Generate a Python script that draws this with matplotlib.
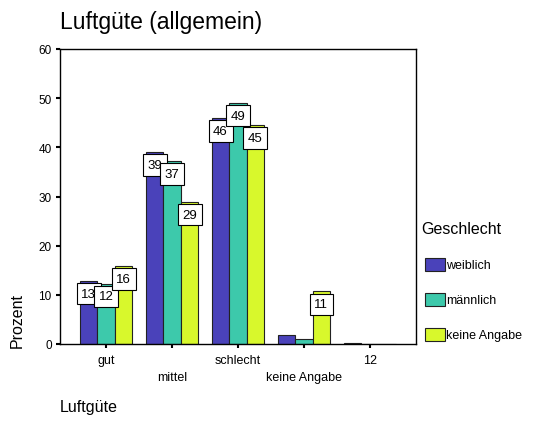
import numpy as np
import matplotlib.pyplot as plt

plt.rcParams['font.family'] = ['Liberation Sans', 'DejaVu Sans']

categories = ['gut', 'mittel', 'schlecht', 'keine Angabe', '12']
groups = ['weiblich', 'männlich', 'keine Angabe']
weiblich = [12.8, 39.0, 45.9, 1.8, 0.3]
maennlich = [12.3, 37.2, 49.0, 1.1, 0.0]
keine = [15.8, 28.9, 44.5, 10.7, 0.0]
labels = [[13, 39, 46, None, None],
          [12, 37, 49, None, None],
          [16, 29, 45, 11, None]]
colors = ['#4A42BA', '#3DC9AB', '#D8F82C']

series = [weiblich, maennlich, keine]

fig = plt.figure(figsize=(5.35, 4.27), dpi=100)
ax = fig.add_axes([60 / 535, 82 / 427, 356 / 535, 295 / 427])

x = np.arange(len(categories))
w = 0.265
for i, vals in enumerate(series):
    pos = x + (i - 1) * w
    ax.bar(pos, vals, width=w, color=colors[i], edgecolor='#222222',
           linewidth=0.8, label=groups[i], zorder=2)
    for p, v, lab in zip(pos, vals, labels[i]):
        if lab is None:
            continue
        ax.text(p, v - 2.6, str(lab), ha='center', va='center', fontsize=9.5,
                zorder=4,
                bbox=dict(boxstyle='square,pad=0.35', fc='white',
                          ec='black', lw=0.8))

ax.set_xlim(-0.7, 4.7)
ax.set_ylim(0, 60)
ax.set_yticks(np.arange(0, 61, 10))
ax.tick_params(axis='y', labelsize=8.5, length=3, width=1.5, pad=3)
ax.set_xticks(x)
ax.set_xticklabels([c if k % 2 == 0 else '\n' + c
                    for k, c in enumerate(categories)])
for k, t in enumerate(ax.get_xticklabels()):
    if k % 2 == 1:
        t.set_linespacing(1.55)
ax.tick_params(axis='x', labelsize=9, length=3, width=1.5, pad=4)
for s in ax.spines.values():
    s.set_linewidth(1)

fig.text(60 / 535, 1 - 22 / 427, 'Luftgüte (allgemein)', fontsize=16.5,
         ha='left', va='center')
fig.text(60 / 535, 1 - 408 / 427, 'Luftgüte', fontsize=11.5,
         ha='left', va='center')
fig.text(17 / 535, 1 - 320 / 427, 'Prozent', fontsize=11.5, rotation=90,
         ha='center', va='center')

fig.text(421 / 535, 1 - 230 / 427, 'Geschlecht', fontsize=11.5,
         ha='left', va='center')
for i, g in enumerate(groups):
    yc = 266 + 35 * i
    fig.patches.append(plt.Rectangle((425 / 535, 1 - (yc + 6) / 427),
                                     20 / 535, 13 / 427, transform=fig.transFigure,
                                     fc=colors[i], ec='#222222', lw=0.8))
    fig.text(446 / 535, 1 - yc / 427, g, fontsize=9, ha='left', va='center')

fig.savefig('out.png', dpi=100)
